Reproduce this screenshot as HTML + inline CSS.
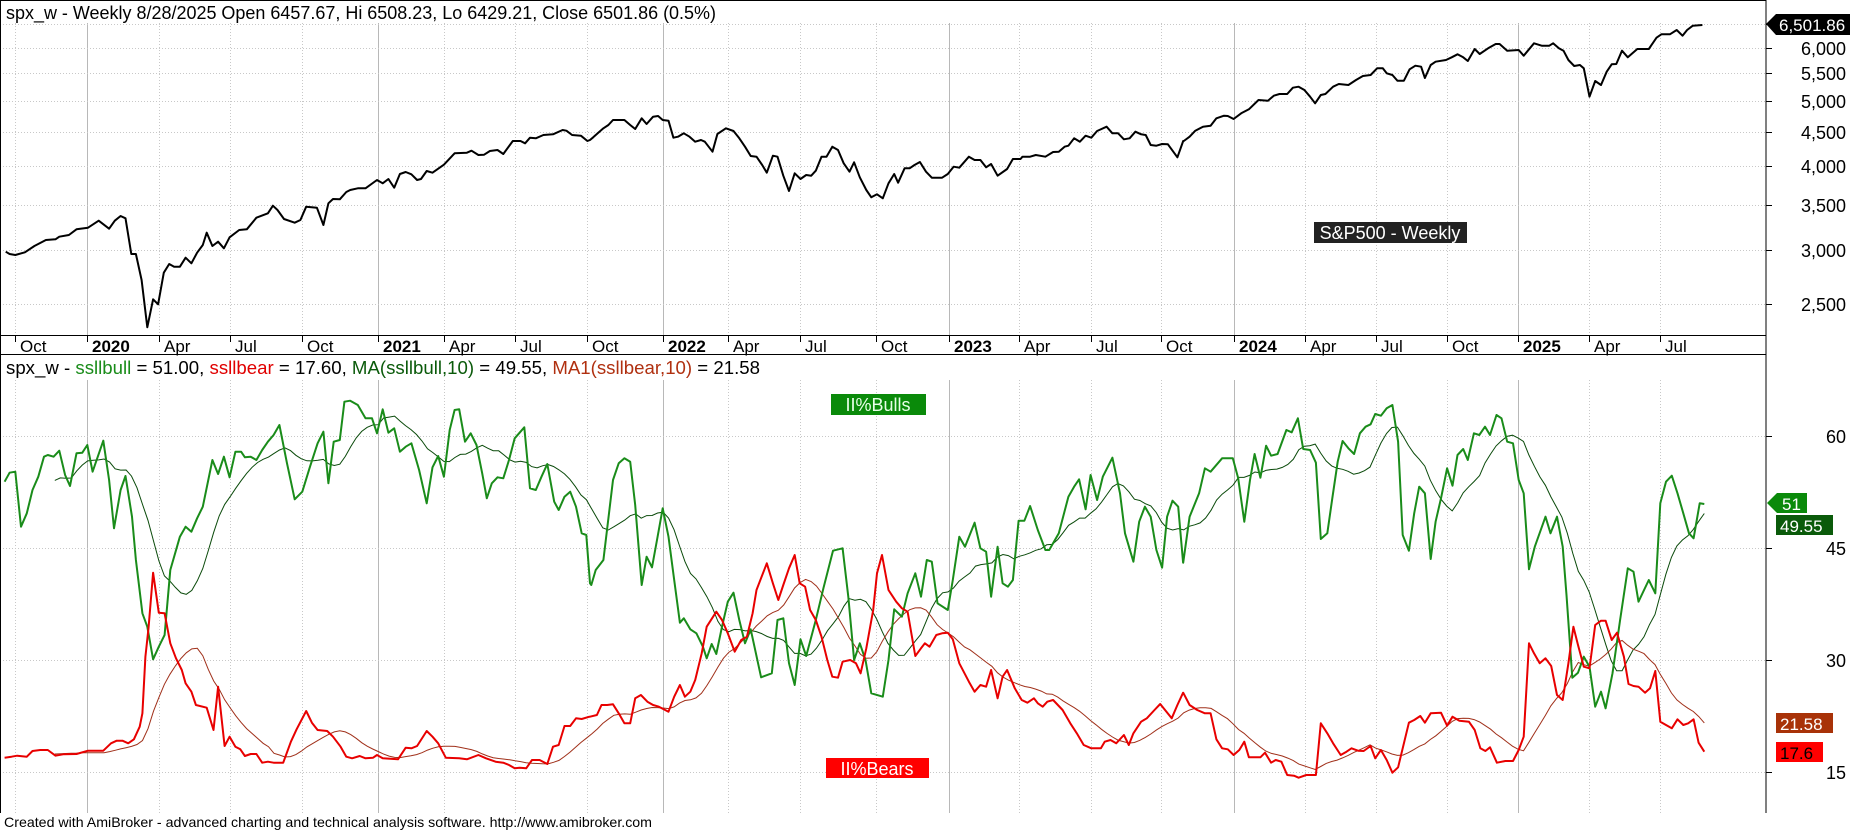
<!DOCTYPE html>
<html><head><meta charset="utf-8"><style>
html,body{margin:0;padding:0;background:#fff;}
svg{display:block;font-family:"Liberation Sans",Arial,sans-serif;}
</style></head><body>
<svg id="s" width="1850" height="831" viewBox="0 0 1850 831" xmlns="http://www.w3.org/2000/svg">
<rect width="1850" height="831" fill="#fff"/>
<g id="grid"></g>
<g id="series"></g>
<line x1="0.5" y1="0" x2="0.5" y2="813" stroke="#000"/>
<line x1="0" y1="0.5" x2="1766" y2="0.5" stroke="#000"/>
<line x1="1766" y1="0" x2="1766" y2="813" stroke="#000"/>
<line x1="0" y1="335.5" x2="1766" y2="335.5" stroke="#000"/>
<line x1="0" y1="354.5" x2="1766" y2="354.5" stroke="#000"/>
<g id="ticks"></g>
<text x="6" y="19" font-size="18" fill="#000" textLength="710" lengthAdjust="spacingAndGlyphs">spx_w - Weekly 8/28/2025 Open 6457.67, Hi 6508.23, Lo 6429.21, Close 6501.86 (0.5%)</text>
<text x="6" y="374" font-size="18" textLength="754" lengthAdjust="spacingAndGlyphs"><tspan fill="#000">spx_w - </tspan><tspan fill="#1a8c1a">ssllbull</tspan><tspan fill="#000"> = 51.00, </tspan><tspan fill="#e00000">ssllbear</tspan><tspan fill="#000"> = 17.60, </tspan><tspan fill="#0a5a0a">MA(ssllbull,10)</tspan><tspan fill="#000"> = 49.55, </tspan><tspan fill="#b03010">MA1(ssllbear,10)</tspan><tspan fill="#000"> = 21.58</tspan></text>
<rect x="1314" y="222" width="153" height="21" fill="#222"/>
<text x="1390" y="239" font-size="18" fill="#fff" text-anchor="middle">S&amp;P500 - Weekly</text>
<rect x="831" y="394" width="95" height="21" fill="#0a8a0a"/>
<text x="878" y="411" font-size="18" fill="#e8ffe8" text-anchor="middle">II%Bulls</text>
<rect x="826" y="758" width="103" height="20" fill="#f00"/>
<text x="877" y="775" font-size="18" fill="#fff" text-anchor="middle">II%Bears</text>
<polygon points="1766,24 1776,14 1850,14 1850,35 1776,35" fill="#000"/>
<text x="1779" y="31" font-size="17" fill="#fff">6,501.86</text>
<polygon points="1767,503 1777,493 1807,493 1807,513 1777,513" fill="#0a8a0a"/>
<text x="1782" y="510" font-size="17" fill="#fff">51</text>
<rect x="1776" y="515" width="57" height="20" fill="#0a5a0a"/>
<text x="1780" y="532" font-size="17" fill="#fff">49.55</text>
<rect x="1776" y="713" width="57" height="20" fill="#a83208"/>
<text x="1780" y="730" font-size="17" fill="#fff">21.58</text>
<rect x="1776" y="742" width="47" height="20" fill="#f00"/>
<text x="1780" y="759" font-size="17" fill="#000">17.6</text>
<text x="4" y="827" font-size="14" fill="#000" textLength="648" lengthAdjust="spacingAndGlyphs">Created with AmiBroker - advanced charting and technical analysis software. http://www.amibroker.com</text>
</svg>
<script>
(function(){
var NS="http://www.w3.org/2000/svg";
function el(p,tag,a,txt){var e=document.createElementNS(NS,tag);for(var k in a)e.setAttribute(k,a[k]);if(txt!=null)e.textContent=txt;document.getElementById(p).appendChild(e);return e;}
var K=2.613;
var vx=[[15,'Oct',0],[87,'2020',1],[159,'Apr',0],[230,'Jul',0],[302,'Oct',0],[378,'2021',1],[444,'Apr',0],[515,'Jul',0],[587,'Oct',0],[663,'2022',1],[728,'Apr',0],[800,'Jul',0],[876,'Oct',0],[949,'2023',1],[1019,'Apr',0],[1091,'Jul',0],[1161,'Oct',0],[1234,'2024',1],[1305,'Apr',0],[1376,'Jul',0],[1447,'Oct',0],[1518,'2025',1],[1589,'Apr',0],[1660,'Jul',0]];
vx.forEach(function(v){
  var x=v[0]+0.5;
  if(v[2]){el('grid','line',{x1:x,y1:23,x2:x,y2:335,stroke:'#b8b8b8'});el('grid','line',{x1:x,y1:380,x2:x,y2:813,stroke:'#b8b8b8'});}
  else{el('grid','line',{x1:x,y1:23,x2:x,y2:335,stroke:'#c8c8c8','stroke-dasharray':'1,2'});el('grid','line',{x1:x,y1:380,x2:x,y2:813,stroke:'#c8c8c8','stroke-dasharray':'1,2'});}
  el('ticks','line',{x1:x,y1:335,x2:x,y2:342,stroke:'#000'});
  el('ticks','text',{x:v[0]+5,y:352,'font-size':17,'font-weight':v[2]?'bold':'normal',fill:'#000'},v[1]);
});
var hy=[[6500,24,''],[6000,48,'6,000'],[5500,73,'5,500'],[5000,101,'5,000'],[4500,132,'4,500'],[4000,166,'4,000'],[3500,205,'3,500'],[3000,250,'3,000'],[2500,304,'2,500']];
hy.forEach(function(h){
  el('grid','line',{x1:3,y1:h[1]+0.5,x2:1766,y2:h[1]+0.5,stroke:'#c8c8c8','stroke-dasharray':'1,2'});
  el('ticks','line',{x1:1766,y1:h[1]+0.5,x2:1772,y2:h[1]+0.5,stroke:'#000'});
  if(h[2])el('ticks','text',{x:1846,y:h[1]+7,'font-size':18,'text-anchor':'end',fill:'#000'},h[2]);
});
[[60,436],[45,548],[30,660],[15,772]].forEach(function(h){
  el('grid','line',{x1:3,y1:h[1]+0.5,x2:1766,y2:h[1]+0.5,stroke:'#c8c8c8','stroke-dasharray':'1,2'});
  el('ticks','line',{x1:1766,y1:h[1]+0.5,x2:1772,y2:h[1]+0.5,stroke:'#000'});
  el('ticks','text',{x:1846,y:h[1]+7,'font-size':18,'text-anchor':'end',fill:'#000'},String(h[0]));
});
function conv(x0,arr,y0){return arr.map(function(p){return [x0+p[0]/K,y0+p[1]/3];});}
var spx=[].concat(
conv(0,[[15,755],[25,762],[40,765],[65,757],[90,738],[120,720],[145,718],[155,710],[180,705],[200,688],[230,683],[258,662],[285,686],[300,662],[315,648],[328,655],[343,762],[355,762],[370,840],[385,982],[400,898],[413,913],[428,818],[442,792],[455,800],[470,800],[485,773],[500,790],[515,758],[530,735],[540,698],[555,738],[570,725],[585,745],[600,712],[625,690],[645,688],[670,653],[700,640],[713,617],[725,630],[742,657],[770,668],[785,660],[800,620],[828,623],[845,675],[858,610],[870,597],[888,598],[905,576],[915,570],[935,565],[955,565],[985,540],[1000,550],[1015,537],[1030,563],[1045,522],[1060,516],[1075,523],[1090,540],[1100,537],[1115,513],[1130,518],[1160,494],[1188,460],[1220,458],[1232,452],[1250,465],[1265,464],[1280,453],[1300,450],[1315,462],[1340,423],[1360,423],[1372,430],[1385,413],[1400,415],[1420,405],[1445,403],[1470,390],[1480,392],[1495,405],[1518,407],[1535,423],[1550,412]],0),
conv(590,[[0,420],[20,400],[35,385],[48,375],[60,360],[90,360],[105,375],[118,387],[135,355],[148,372],[165,350],[178,348],[190,360],[205,362],[218,413],[230,410],[245,400],[260,410],[275,425],[290,420],[300,425],[320,455],[333,402],[355,385],[375,393],[390,415],[405,440],[420,468],[435,470],[450,495],[462,518],[478,467],[490,470],[505,527],[520,573],[535,520],[550,537],[565,525],[578,527],[590,512],[605,470],[618,470],[633,440],[648,450],[663,490],[678,515],[690,487],[705,532],[722,570],[735,592],[750,583],[765,595],[780,550],[795,522],[805,548],[822,505],[835,505],[848,495],[862,486],[878,515],[893,533],[920,533],[935,522],[950,500],[965,503],[990,470],[1005,480],[1020,480],[1035,502],[1048,492],[1065,527],[1090,507],[1105,477],[1125,477],[1130,470],[1150,470],[1165,465],[1190,470],[1210,456],[1225,455],[1240,440],[1250,437],[1265,415],[1280,425],[1295,407],[1310,413],[1325,393],[1350,380],[1365,400],[1380,400],[1395,418],[1410,415],[1425,395],[1440,403],[1452,405],[1465,435],[1480,437],[1495,432],[1510,433],[1535,472],[1550,423]],0),
conv(1180,[[10,423],[25,410],[40,392],[60,380],[80,377],[95,355],[115,347],[125,348],[140,357],[160,340],[180,328],[205,300],[230,302],[245,287],[260,282],[280,282],[295,263],[310,260],[325,270],[340,290],[353,310],[368,285],[380,282],[400,260],[415,252],[440,255],[460,240],[478,228],[498,225],[515,205],[530,205],[540,220],[555,225],[568,242],[585,242],[600,208],[615,197],[630,200],[640,234],[655,195],[668,185],[695,180],[710,172],[725,163],[740,172],[752,183],[770,147],[783,162],[805,145],[825,132],[835,132],[855,152],[885,150],[898,167],[925,130],[945,137],[965,137],[975,130],[990,145],[1002,152],[1015,180],[1030,198],[1045,195],[1055,205],[1070,290],[1085,243],[1100,255],[1115,215],[1128,193],[1140,192],[1155,152],[1170,172],[1195,147],[1225,147],[1245,113],[1258,103],[1280,103],[1298,90],[1313,107],[1325,90],[1340,77],[1365,75]],0));
var bull=[].concat(
conv(0,[[12,305],[25,278],[40,275],[55,440],[70,400],[85,330],[100,290],[115,230],[125,225],[140,230],[155,212],[170,285],[183,318],[200,220],[215,218],[228,195],[242,275],[270,182],[285,300],[298,445],[315,330],[328,288],[345,410],[355,540],[372,700],[385,740],[400,838],[415,800],[430,765],[445,570],[470,470],[485,440],[500,455],[515,415],[530,380],[555,240],[570,282],[585,230],[600,292],[615,215],[630,215],[640,232],[655,230],[670,240],[685,210],[700,185],[715,165],[730,135],[750,250],[770,358],[790,335],[810,260],[830,190],[845,155],[858,310],[872,185],[888,180],[900,65],[915,62],[935,75],[955,115],[972,115],[985,160],[1000,88],[1015,158],[1030,145],[1045,215],[1060,200],[1075,190],[1095,270],[1115,370],[1130,262],[1145,228],[1160,290],[1175,150],[1188,90],[1200,88],[1215,185],[1230,160],[1245,195],[1260,280],[1272,355],[1285,310],[1300,292],[1315,295],[1330,240],[1345,175],[1370,142],[1385,325],[1400,330],[1415,290],[1430,252],[1448,365],[1460,390],[1475,350],[1490,335],[1505,380],[1520,460],[1532,465],[1545,615]],380),
conv(590,[[0,610],[15,570],[35,540],[60,300],[75,250],[90,235],[105,245],[118,375],[135,615],[148,530],[162,562],[175,480],[190,385],[205,470],[220,600],[235,728],[245,715],[262,748],[278,760],[295,800],[305,835],[318,792],[330,822],[345,740],[360,665],[375,638],[390,720],[405,790],[420,748],[447,892],[475,880],[490,720],[505,715],[520,850],[535,915],[550,778],[565,828],[590,720],[610,625],[635,512],[660,505],[675,650],[690,840],[705,790],[720,840],[735,940],[765,950],[780,840],[795,688],[815,710],[830,640],[850,580],[865,650],[880,540],[893,545],[908,670],[935,690],[948,600],[965,470],[980,500],[1005,428],[1020,505],[1035,515],[1048,650],[1065,500],[1078,610],[1092,620],[1105,600],[1120,422],[1135,422],[1150,378],[1170,450],[1190,510],[1200,510],[1225,460],[1250,350],[1265,320],[1278,298],[1295,388],[1308,285],[1325,360],[1340,290],[1365,233],[1385,340],[1398,460],[1420,545],[1435,425],[1450,380],[1465,410],[1480,510],[1495,563],[1508,410],[1522,362],[1537,380],[1550,548]],380),
conv(1180,[[8,548],[25,410],[50,340],[65,265],[80,275],[110,235],[138,235],[152,295],[168,425],[183,300],[195,222],[210,293],[225,197],[238,227],[255,222],[278,150],[292,157],[308,115],[322,207],[340,210],[355,248],[368,477],[385,460],[398,355],[412,245],[425,183],[440,205],[455,222],[470,160],[485,140],[498,133],[510,102],[525,107],[540,85],[555,75],[570,185],[582,465],[598,512],[612,400],[625,320],[640,340],[655,537],[668,425],[682,355],[698,265],[712,317],[725,225],[740,207],[752,240],[768,160],[782,165],[797,140],[810,165],[827,105],[840,115],[855,185],[870,190],[885,300],[898,340],[912,568],[927,500],[955,410],[968,460],[985,410],[1000,500],[1010,645],[1025,893],[1040,878],[1055,830],[1070,860],[1085,980],[1100,935],[1112,985],[1130,880],[1150,720],[1170,565],[1185,575],[1198,665],[1225,600],[1242,640],[1255,370],[1270,305],[1285,287],[1300,340],[1315,400],[1330,460],[1342,475],[1358,370],[1370,372]],380));
var bear=[].concat(
conv(0,[[12,1133],[30,1130],[45,1127],[70,1130],[85,1113],[105,1110],[125,1110],[145,1127],[165,1123],[200,1122],[230,1112],[270,1112],[290,1090],[305,1082],[320,1082],[335,1090],[350,1078],[365,1040],[372,1000],[380,830],[388,745],[400,578],[415,698],[430,700],[445,790],[460,835],[475,870],[485,910],[500,935],[512,975],[540,983],[558,1050],[570,920],[587,1098],[600,1070],[615,1100],[628,1108],[640,1128],[655,1122],[670,1122],[685,1148],[700,1145],[715,1148],[740,1148],[760,1085],[775,1048],[800,993],[815,1028],[830,1050],[855,1053],[870,1070],[890,1100],[905,1130],[920,1135],[940,1128],[955,1135],[975,1133],[985,1125],[1000,1135],[1040,1138],[1060,1103],[1075,1105],[1090,1098],[1115,1053],[1130,1070],[1145,1090],[1165,1133],[1200,1135],[1220,1138],[1250,1125],[1270,1135],[1295,1145],[1315,1148],[1330,1155],[1345,1165],[1358,1163],[1375,1165],[1390,1140],[1410,1140],[1430,1152],[1445,1100],[1460,1095],[1475,1038],[1490,1038],[1505,1015],[1520,1017],[1540,1010]],380),
conv(590,[[0,1010],[18,1005],[30,975],[45,975],[60,973],[75,1000],[90,1030],[105,1030],[118,955],[133,945],[150,965],[165,975],[180,980],[205,995],[220,950],[235,915],[248,950],[262,935],[275,900],[292,820],[305,740],[330,695],[345,720],[360,760],[378,815],[395,780],[410,770],[425,700],[435,630],[462,550],[478,610],[492,660],[505,615],[520,565],[535,525],[548,610],[562,620],[575,690],[590,720],[605,770],[620,840],[633,890],[648,893],[660,845],[680,840],[695,850],[707,880],[722,805],[740,690],[750,580],[763,525],[780,630],[800,665],[815,685],[830,695],[850,828],[865,805],[875,790],[887,800],[905,765],[920,760],[935,758],[948,778],[965,850],[990,905],[1005,935],[1020,915],[1035,920],[1048,870],[1065,955],[1078,890],[1090,870],[1110,925],[1128,960],[1143,968],[1160,955],[1170,970],[1183,980],[1195,965],[1210,960],[1235,990],[1255,1030],[1272,1060],[1290,1095],[1310,1105],[1335,1105],[1345,1085],[1360,1080],[1375,1090],[1395,1065],[1408,1095],[1420,1060],[1440,1025],[1455,1015],[1475,990],[1490,972],[1520,1015],[1535,975],[1550,938]],380),
conv(1180,[[8,938],[25,975],[45,990],[65,1000],[80,1000],[95,1078],[110,1105],[125,1108],[140,1125],[155,1110],[168,1085],[180,1132],[210,1132],[222,1118],[238,1148],[250,1140],[265,1145],[280,1185],[298,1187],[310,1193],[330,1185],[355,1185],[368,1030],[385,1060],[400,1090],[420,1125],[435,1115],[448,1105],[465,1112],[480,1113],[498,1098],[510,1135],[525,1110],[540,1140],[555,1178],[570,1162],[598,1028],[612,1020],[628,1008],[640,1028],[655,1000],[682,998],[698,1037],[712,1010],[730,1022],[755,1025],[770,1050],[785,1105],[798,1113],[810,1102],[828,1148],[850,1143],[870,1143],[885,1110],[898,1070],[912,790],[925,820],[940,850],[955,835],[970,858],[985,945],[1000,960],[1015,850],[1028,740],[1040,795],[1055,860],[1070,865],[1085,735],[1100,722],[1112,722],[1128,780],[1142,758],[1160,830],[1172,912],[1185,918],[1198,920],[1215,938],[1228,925],[1242,873],[1255,1025],[1270,1035],[1285,1045],[1300,1018],[1315,1035],[1328,1030],[1342,1018],[1355,1088],[1370,1115]],380));
function sortp(a){a.sort(function(p,q){return p[0]-q[0];});return a;}
sortp(spx);sortp(bull);sortp(bear);
function pts(a){return a.map(function(p){return p[0].toFixed(1)+','+p[1].toFixed(1);}).join(' ');}
function interp(a,x){if(x<=a[0][0])return a[0][1];for(var i=1;i<a.length;i++){if(a[i][0]>=x){var t=(x-a[i-1][0])/(a[i][0]-a[i-1][0]||1);return a[i-1][1]+t*(a[i][1]-a[i-1][1]);}}return a[a.length-1][1];}
function ma(a){var end=a[a.length-1][0],st=a[0][0],xs=[];for(var x=end;x>=st;x-=5.48)xs.unshift(x);var v=xs.map(function(x){return interp(a,x);});var out=[];for(var i=9;i<v.length;i++){var s=0;for(var j=i-9;j<=i;j++)s+=v[j];out.push([xs[i],s/10]);}return out;}
el('series','polyline',{points:pts(ma(bull)),fill:'none',stroke:'#0a4a0a','stroke-width':1});
el('series','polyline',{points:pts(ma(bear)),fill:'none',stroke:'#a0301a','stroke-width':1});
el('series','polyline',{points:pts(bull),fill:'none',stroke:'#1a8c1a','stroke-width':2,'stroke-linejoin':'round'});
el('series','polyline',{points:pts(bear),fill:'none',stroke:'#e80000','stroke-width':2,'stroke-linejoin':'round'});
el('series','polyline',{points:pts(spx),fill:'none',stroke:'#000','stroke-width':2,'stroke-linejoin':'round'});
})();
</script>
</body></html>
